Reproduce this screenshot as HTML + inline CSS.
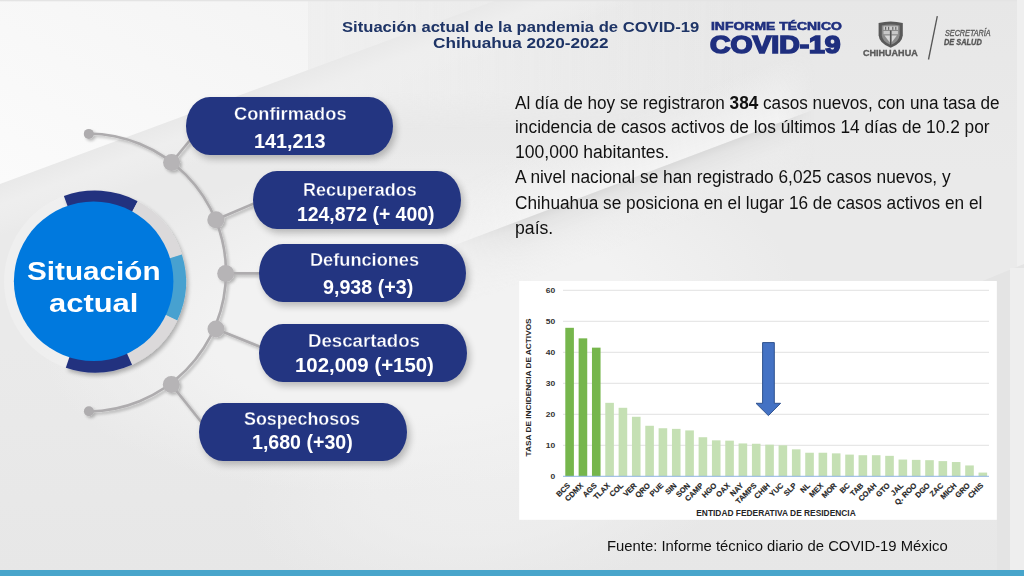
<!DOCTYPE html>
<html><head><meta charset="utf-8">
<style>
*{margin:0;padding:0;box-sizing:border-box}
html,body{width:1024px;height:576px;overflow:hidden}
body{position:relative;background:#ececec;font-family:"Liberation Sans",sans-serif}
.abs{position:absolute}
.t{position:absolute;white-space:nowrap;line-height:1;transform-origin:0 0}
.pill{position:absolute;background:#233581;border-radius:24px/29px;box-shadow:3px 4px 7px rgba(0,0,0,0.24)}
</style></head>
<body>

<svg class="abs" style="left:0;top:0" width="1024" height="576" viewBox="0 0 1024 576">
  <defs>
    <linearGradient id="bgBase" x1="0" y1="0" x2="0" y2="1">
      <stop offset="0" stop-color="#e7e7e7"/>
      <stop offset="0.3" stop-color="#eaeaea"/>
      <stop offset="0.6" stop-color="#eaeaea"/>
      <stop offset="1" stop-color="#e7e7e7"/>
    </linearGradient>
    <linearGradient id="hdr" gradientUnits="userSpaceOnUse" x1="308" y1="0" x2="760" y2="0">
      <stop offset="0" stop-color="#efefef" stop-opacity="1"/>
      <stop offset="1" stop-color="#efefef" stop-opacity="0"/>
    </linearGradient>
    <linearGradient id="tl" x1="0" y1="1" x2="1" y2="0">
      <stop offset="0" stop-color="#fbfbfb"/>
      <stop offset="1" stop-color="#f4f4f4"/>
    </linearGradient>
    <linearGradient id="sh1" gradientUnits="userSpaceOnUse" x1="100" y1="147" x2="117" y2="193">
      <stop offset="0" stop-color="#e9e9e9" stop-opacity="1"/>
      <stop offset="0.4" stop-color="#eeeeee" stop-opacity="1"/>
      <stop offset="1" stop-color="#f0f0f0" stop-opacity="0"/>
    </linearGradient>
    <linearGradient id="sh2" gradientUnits="userSpaceOnUse" x1="640" y1="175.3" x2="661.2" y2="231.5">
      <stop offset="0" stop-color="#dadada" stop-opacity="1"/>
      <stop offset="0.12" stop-color="#e3e3e3" stop-opacity="1"/>
      <stop offset="0.45" stop-color="#ebebeb" stop-opacity="0.8"/>
      <stop offset="1" stop-color="#f0f0f0" stop-opacity="0"/>
    </linearGradient>
    <radialGradient id="blob" gradientUnits="userSpaceOnUse" cx="0" cy="0" r="1" gradientTransform="translate(420,320) rotate(-5) scale(380,170)">
      <stop offset="0" stop-color="#f2f2f2" stop-opacity="1"/>
      <stop offset="0.55" stop-color="#f2f2f2" stop-opacity="1"/>
      <stop offset="1" stop-color="#f2f2f2" stop-opacity="0"/>
    </radialGradient>
    <linearGradient id="m2g" gradientUnits="userSpaceOnUse" x1="440" y1="0" x2="815" y2="0">
      <stop offset="0" stop-color="#fff" stop-opacity="0"/>
      <stop offset="0.22" stop-color="#fff" stop-opacity="1"/>
      <stop offset="0.9" stop-color="#fff" stop-opacity="1"/>
      <stop offset="1" stop-color="#fff" stop-opacity="0"/>
    </linearGradient>
    <linearGradient id="up2" gradientUnits="userSpaceOnUse" x1="640" y1="175.3" x2="618.8" y2="119.1">
      <stop offset="0" stop-color="#f3f3f3" stop-opacity="1"/>
      <stop offset="0.4" stop-color="#f1f1f1" stop-opacity="0.7"/>
      <stop offset="1" stop-color="#efefef" stop-opacity="0"/>
    </linearGradient>
    <radialGradient id="blob2" gradientUnits="userSpaceOnUse" cx="0" cy="0" r="1" gradientTransform="translate(500,470) rotate(-10) scale(260,130)">
      <stop offset="0" stop-color="#efefef" stop-opacity="0.9"/>
      <stop offset="0.5" stop-color="#efefef" stop-opacity="0.7"/>
      <stop offset="1" stop-color="#efefef" stop-opacity="0"/>
    </radialGradient>
    <mask id="m2"><rect x="0" y="0" width="1024" height="576" fill="url(#m2g)"/></mask>
    <linearGradient id="hdrv" x1="0" y1="0" x2="0" y2="1">
      <stop offset="0" stop-color="#fff" stop-opacity="1"/>
      <stop offset="0.7" stop-color="#fff" stop-opacity="1"/>
      <stop offset="1" stop-color="#fff" stop-opacity="0"/>
    </linearGradient>
    <mask id="mh"><rect x="308" y="0" width="716" height="130" fill="url(#hdrv)"/></mask>
  </defs>
  <rect x="0" y="0" width="1024" height="576" fill="url(#bgBase)"/>
  <rect x="308" y="0" width="716" height="130" fill="url(#hdr)" mask="url(#mh)"/>
  <polygon points="0,184 497,0 700,0 0,290" fill="url(#sh1)"/>
  <rect x="0" y="0" width="1024" height="576" fill="url(#blob2)"/>
  <rect x="0" y="0" width="1024" height="576" fill="url(#blob)"/>
  <polygon points="0,416.6 1024,30.5 1024,-40 0,340" fill="url(#up2)" mask="url(#m2)"/>
  <polygon points="0,416.6 1024,30.5 1024,600 0,600" fill="url(#sh2)" mask="url(#m2)"/>
  <polygon points="0,0 308,0 308,70 0,184" fill="url(#tl)"/>
  <rect x="0" y="0" width="1024" height="1.3" fill="#e4e4e4"/>
  <rect x="1017" y="0" width="7" height="570" fill="#efefef"/>
  <polygon points="980,282 1024,264 1024,570 997,570 997,282" fill="#e4e4e4"/>
  <rect x="1010" y="268" width="14" height="302" fill="#eeeeee"/>
  <rect x="0" y="570" width="1024" height="6" fill="#48a5cb"/>
</svg>

<svg class="abs" style="left:0;top:0" width="1024" height="576" viewBox="0 0 1024 576">
<defs><filter id="sh" x="-20%" y="-20%" width="140%" height="140%"><feGaussianBlur in="SourceAlpha" stdDeviation="1.5"/><feOffset dx="1.5" dy="2" result="o"/><feComponentTransfer><feFuncA type="linear" slope="0.25"/></feComponentTransfer><feMerge><feMergeNode/><feMergeNode in="SourceGraphic"/></feMerge></filter></defs>
<g filter="url(#sh)">
<path d="M88.9,133.5 A139,139 0 0 1 226,272.5 A139,139 0 0 1 88.9,411.5" fill="none" stroke="#aeacae" stroke-width="2.6"/>
<line x1="171.6" y1="162.5" x2="200" y2="128" stroke="#aeacae" stroke-width="2.6"/>
<line x1="215.8" y1="219.8" x2="262" y2="200" stroke="#aeacae" stroke-width="2.6"/>
<line x1="225.7" y1="273.4" x2="270" y2="273.4" stroke="#aeacae" stroke-width="2.6"/>
<line x1="216" y1="329" x2="268" y2="350" stroke="#aeacae" stroke-width="2.6"/>
<line x1="171.3" y1="384.4" x2="210" y2="433" stroke="#aeacae" stroke-width="2.6"/>
<circle cx="88.8" cy="133.9" r="5" fill="#aeacae"/>
<circle cx="88.9" cy="411.2" r="5" fill="#aeacae"/>
<circle cx="171.6" cy="162.5" r="8.5" fill="#b6b4b6"/>
<circle cx="215.8" cy="219.8" r="8.5" fill="#b6b4b6"/>
<circle cx="225.7" cy="273.4" r="8.5" fill="#b6b4b6"/>
<circle cx="216" cy="329" r="8.5" fill="#b6b4b6"/>
<circle cx="171.3" cy="384.4" r="8.5" fill="#b6b4b6"/>
</g>
</svg>
<svg class="abs" id="ring" style="left:0;top:0" width="1024" height="576" viewBox="0 0 1024 576">
<defs><filter id="rsh" x="-30%" y="-30%" width="160%" height="160%"><feGaussianBlur in="SourceAlpha" stdDeviation="2.2"/><feOffset dx="2" dy="2.5"/><feComponentTransfer><feFuncA type="linear" slope="0.28"/></feComponentTransfer><feMerge><feMergeNode/><feMergeNode in="SourceGraphic"/></feMerge></filter></defs>
<path d="M65.82,367.70 A91,91 0 0 1 63.88,195.99 L69.01,210.08 A76,76 0 0 0 70.63,353.49 Z" fill="#f3f3f3" opacity="0.55"/>
<g filter="url(#rsh)">
<path d="M63.88,195.99 A91,91 0 0 1 137.72,201.15 L130.68,214.40 A76,76 0 0 0 69.01,210.08 Z" fill="#23337f"/>
<path d="M137.72,201.15 A91,91 0 0 1 181.88,254.44 L167.56,258.90 A76,76 0 0 0 130.68,214.40 Z" fill="#dbd9da"/>
<path d="M181.88,254.44 A91,91 0 0 1 177.20,320.53 L163.65,314.10 A76,76 0 0 0 167.56,258.90 Z" fill="#46a1d0"/>
<path d="M177.20,320.53 A91,91 0 0 1 132.01,364.63 L125.91,350.93 A76,76 0 0 0 163.65,314.10 Z" fill="#dbd9da"/>
<path d="M132.01,364.63 A91,91 0 0 1 65.82,367.70 L70.63,353.49 A76,76 0 0 0 125.91,350.93 Z" fill="#23337f"/>
</g>
<circle id="bc" cx="93.65" cy="281.25" r="79.75" fill="#0079de"/>
</svg>
<div class="pill" id="pl1" style="left:185.9px;top:97.2px;width:207.6px;height:58px"></div>
<div class="pill" id="pl2" style="left:253.1px;top:171.3px;width:207.6px;height:58px"></div>
<div class="pill" id="pl3" style="left:258.9px;top:243.5px;width:207.6px;height:58px"></div>
<div class="pill" id="pl4" style="left:259px;top:323.5px;width:207.6px;height:58px"></div>
<div class="pill" id="pl5" style="left:199.1px;top:402.8px;width:207.6px;height:58px"></div>
<svg class="abs" style="left:0;top:0" width="1024" height="576" viewBox="0 0 1024 576">
<rect x="519.2" y="281" width="477.6" height="238.8" fill="#fff"/>
<line x1="563" y1="445.3" x2="989" y2="445.3" stroke="#e2e2e2" stroke-width="1"/>
<line x1="563" y1="414.3" x2="989" y2="414.3" stroke="#e2e2e2" stroke-width="1"/>
<line x1="563" y1="383.3" x2="989" y2="383.3" stroke="#e2e2e2" stroke-width="1"/>
<line x1="563" y1="352.3" x2="989" y2="352.3" stroke="#e2e2e2" stroke-width="1"/>
<line x1="563" y1="321.3" x2="989" y2="321.3" stroke="#e2e2e2" stroke-width="1"/>
<line x1="563" y1="290.3" x2="989" y2="290.3" stroke="#e2e2e2" stroke-width="1"/>
<rect x="565.30" y="327.81" width="8.6" height="148.49" fill="#76b64c"/>
<rect x="578.63" y="338.35" width="8.6" height="137.95" fill="#76b64c"/>
<rect x="591.96" y="347.65" width="8.6" height="128.65" fill="#76b64c"/>
<rect x="605.29" y="402.83" width="8.6" height="73.47" fill="#c5e0b4"/>
<rect x="618.62" y="407.79" width="8.6" height="68.51" fill="#c5e0b4"/>
<rect x="631.95" y="416.78" width="8.6" height="59.52" fill="#c5e0b4"/>
<rect x="645.28" y="425.77" width="8.6" height="50.53" fill="#c5e0b4"/>
<rect x="658.61" y="428.25" width="8.6" height="48.05" fill="#c5e0b4"/>
<rect x="671.94" y="428.87" width="8.6" height="47.43" fill="#c5e0b4"/>
<rect x="685.27" y="430.42" width="8.6" height="45.88" fill="#c5e0b4"/>
<rect x="698.60" y="437.24" width="8.6" height="39.06" fill="#c5e0b4"/>
<rect x="711.93" y="440.34" width="8.6" height="35.96" fill="#c5e0b4"/>
<rect x="725.26" y="440.65" width="8.6" height="35.65" fill="#c5e0b4"/>
<rect x="738.59" y="443.44" width="8.6" height="32.86" fill="#c5e0b4"/>
<rect x="751.92" y="443.75" width="8.6" height="32.55" fill="#c5e0b4"/>
<rect x="765.25" y="444.68" width="8.6" height="31.62" fill="#c5e0b4"/>
<rect x="778.58" y="445.30" width="8.6" height="31.00" fill="#c5e0b4"/>
<rect x="791.91" y="449.33" width="8.6" height="26.97" fill="#c5e0b4"/>
<rect x="805.24" y="452.74" width="8.6" height="23.56" fill="#c5e0b4"/>
<rect x="818.57" y="452.74" width="8.6" height="23.56" fill="#c5e0b4"/>
<rect x="831.90" y="453.36" width="8.6" height="22.94" fill="#c5e0b4"/>
<rect x="845.23" y="454.60" width="8.6" height="21.70" fill="#c5e0b4"/>
<rect x="858.56" y="455.22" width="8.6" height="21.08" fill="#c5e0b4"/>
<rect x="871.89" y="455.22" width="8.6" height="21.08" fill="#c5e0b4"/>
<rect x="885.22" y="455.84" width="8.6" height="20.46" fill="#c5e0b4"/>
<rect x="898.55" y="459.56" width="8.6" height="16.74" fill="#c5e0b4"/>
<rect x="911.88" y="459.87" width="8.6" height="16.43" fill="#c5e0b4"/>
<rect x="925.21" y="460.18" width="8.6" height="16.12" fill="#c5e0b4"/>
<rect x="938.54" y="461.11" width="8.6" height="15.19" fill="#c5e0b4"/>
<rect x="951.87" y="462.04" width="8.6" height="14.26" fill="#c5e0b4"/>
<rect x="965.20" y="465.45" width="8.6" height="10.85" fill="#c5e0b4"/>
<rect x="978.53" y="472.58" width="8.6" height="3.72" fill="#c5e0b4"/>
<line x1="563" y1="476.3" x2="989" y2="476.3" stroke="#8fb4e3" stroke-width="1"/>
<g font-family="Liberation Sans" font-weight="bold" font-size="7.2" fill="#333" text-anchor="end">
<text transform="translate(555.3,478.9) scale(1.18,1)">0</text>
<text transform="translate(555.3,447.9) scale(1.18,1)">10</text>
<text transform="translate(555.3,416.9) scale(1.18,1)">20</text>
<text transform="translate(555.3,385.9) scale(1.18,1)">30</text>
<text transform="translate(555.3,354.9) scale(1.18,1)">40</text>
<text transform="translate(555.3,323.9) scale(1.18,1)">50</text>
<text transform="translate(555.3,292.9) scale(1.18,1)">60</text>
</g>
<text transform="translate(530.6,387.4) rotate(-90)" text-anchor="middle" font-family="Liberation Sans" font-weight="bold" font-size="7.8" fill="#262626" textLength="138" lengthAdjust="spacingAndGlyphs">TASA DE INCIDENCIA DE ACTIVOS</text>
<g font-family="Liberation Sans" font-weight="bold" font-size="7.6" fill="#262626" text-anchor="end" stroke="#262626" stroke-width="0.15">
<text transform="translate(570.6,486) rotate(-45)">BCS</text>
<text transform="translate(583.9,486) rotate(-45)">CDMX</text>
<text transform="translate(597.3,486) rotate(-45)">AGS</text>
<text transform="translate(610.6,486) rotate(-45)">TLAX</text>
<text transform="translate(623.9,486) rotate(-45)">COL</text>
<text transform="translate(637.2,486) rotate(-45)">VER</text>
<text transform="translate(650.6,486) rotate(-45)">QRO</text>
<text transform="translate(663.9,486) rotate(-45)">PUE</text>
<text transform="translate(677.2,486) rotate(-45)">SIN</text>
<text transform="translate(690.6,486) rotate(-45)">SON</text>
<text transform="translate(703.9,486) rotate(-45)">CAMP</text>
<text transform="translate(717.2,486) rotate(-45)">HGO</text>
<text transform="translate(730.6,486) rotate(-45)">OAX</text>
<text transform="translate(743.9,486) rotate(-45)">NAY</text>
<text transform="translate(757.2,486) rotate(-45)">TAMPS</text>
<text transform="translate(770.5,486) rotate(-45)">CHIH</text>
<text transform="translate(783.9,486) rotate(-45)">YUC</text>
<text transform="translate(797.2,486) rotate(-45)">SLP</text>
<text transform="translate(810.5,486) rotate(-45)">NL</text>
<text transform="translate(823.9,486) rotate(-45)">MEX</text>
<text transform="translate(837.2,486) rotate(-45)">MOR</text>
<text transform="translate(850.5,486) rotate(-45)">BC</text>
<text transform="translate(863.9,486) rotate(-45)">TAB</text>
<text transform="translate(877.2,486) rotate(-45)">COAH</text>
<text transform="translate(890.5,486) rotate(-45)">GTO</text>
<text transform="translate(903.8,486) rotate(-45)">JAL</text>
<text transform="translate(917.2,486) rotate(-45)">Q. ROO</text>
<text transform="translate(930.5,486) rotate(-45)">DGO</text>
<text transform="translate(943.8,486) rotate(-45)">ZAC</text>
<text transform="translate(957.2,486) rotate(-45)">MICH</text>
<text transform="translate(970.5,486) rotate(-45)">GRO</text>
<text transform="translate(983.8,486) rotate(-45)">CHIS</text>
</g>
<text x="776" y="516.2" text-anchor="middle" font-family="Liberation Sans" font-weight="bold" font-size="8.4" fill="#262626">ENTIDAD FEDERATIVA DE RESIDENCIA</text>
<polygon points="762.6,342.6 774.3,342.6 774.3,403.3 780.6,403.3 768.4,415.6 756,403.3 762.6,403.3" fill="#4472c4" stroke="#2f528f" stroke-width="1"/>
</svg>
<svg class="abs" style="left:0;top:0" width="1024" height="576" viewBox="0 0 1024 576">
<path d="M878.6,23 Q890.7,19.8 902.8,23 L902.8,35.3 Q902.2,43.5 890.7,47.8 Q879.2,43.5 878.6,35.3 Z" fill="#595959"/>
<path d="M881.8,25.6 Q890.7,23.4 899.6,25.6 L899.6,35.2 Q899,41.6 890.7,44.9 Q882.4,41.6 881.8,35.2 Z" fill="#8c8c8c"/>
<rect x="883.5" y="26.3" width="14.4" height="3.6" fill="#cfcfcf"/>
<rect x="885" y="26.8" width="1.2" height="3" fill="#666"/>
<rect x="888" y="26.8" width="1.2" height="3" fill="#666"/>
<rect x="892.2" y="26.8" width="1.2" height="3" fill="#666"/>
<rect x="895.2" y="26.8" width="1.2" height="3" fill="#666"/>
<rect x="883.5" y="31" width="6.3" height="3.2" fill="#c8c8c8"/>
<rect x="891.6" y="31" width="6.3" height="3.2" fill="#c8c8c8"/>
<path d="M884.5,35.6 L889.8,35.6 L889.8,42.5 Z" fill="#d6d6d6"/>
<path d="M896.9,35.6 L891.6,35.6 L891.6,42.5 Z" fill="#d6d6d6"/>
<line x1="890.7" y1="30.5" x2="890.7" y2="45" stroke="#4d4d4d" stroke-width="1.3"/>
<line x1="937.3" y1="16.2" x2="928.5" y2="59.5" stroke="#555" stroke-width="1.3"/>
</svg>

<div class="t" id="h1" style="left:341.69px;top:20.05px;font-size:14px;font-weight:bold;color:#1e3466;transform:scaleX(1.1867);">Situación actual de la pandemia de COVID-19</div>
<div class="t" id="h2" style="left:433.11px;top:36.25px;font-size:14px;font-weight:bold;color:#1e3466;transform:scaleX(1.2268);">Chihuahua 2020-2022</div>
<div class="t" id="inf" style="left:711.00px;top:21.28px;font-size:10.6px;font-weight:bold;color:#1f2f7f;transform:scaleX(1.3162);-webkit-text-stroke:0.55px #1f2f7f;">INFORME TÉCNICO</div>
<div class="t" id="cov" style="left:709.88px;top:33.78px;font-size:23px;font-weight:bold;color:#1f2f7f;transform:scaleX(1.2311);-webkit-text-stroke:1.6px #1f2f7f;">COVID-19</div>
<div class="t" id="p1" style="left:515.00px;top:93.76px;font-size:18px;font-weight:normal;color:#111;transform:scaleX(0.9533);">Al día de hoy se registraron <b>384</b> casos nuevos, con una tasa de</div>
<div class="t" id="p2" style="left:515.04px;top:118.16px;font-size:18px;font-weight:normal;color:#111;transform:scaleX(0.9622);">incidencia de casos activos de los últimos 14 días de 10.2 por</div>
<div class="t" id="p3" style="left:515.02px;top:142.76px;font-size:18px;font-weight:normal;color:#111;transform:scaleX(0.9750);">100,000 habitantes.</div>
<div class="t" id="p4" style="left:515.00px;top:167.66px;font-size:18px;font-weight:normal;color:#111;transform:scaleX(0.9609);">A nivel nacional se han registrado 6,025 casos nuevos, y</div>
<div class="t" id="p5" style="left:515.04px;top:193.66px;font-size:18px;font-weight:normal;color:#111;transform:scaleX(0.9570);">Chihuahua se posiciona en el lugar 16 de casos activos en el</div>
<div class="t" id="p6" style="left:515.02px;top:218.56px;font-size:18px;font-weight:normal;color:#111;transform:scaleX(0.9806);">país.</div>
<div class="t" id="fu" style="left:606.59px;top:538.68px;font-size:14.67px;font-weight:normal;color:#111;transform:scaleX(1.0128);">Fuente: Informe técnico diario de COVID-19 México</div>
<div class="t" id="s1" style="left:26.86px;top:258.09px;font-size:26px;font-weight:bold;color:#fff;transform:scaleX(1.1409);">Situación</div>
<div class="t" id="s2" style="left:49.37px;top:289.99px;font-size:26px;font-weight:bold;color:#fff;transform:scaleX(1.1889);">actual</div>
<div class="t" id="c1a" style="left:234.19px;top:105.06px;font-size:18px;font-weight:bold;color:#fff;transform:scaleX(1.0138);--thin:1;-webkit-text-stroke:0.3px #233581;">Confirmados</div>
<div class="t" id="c1b" style="left:253.78px;top:132.49px;font-size:19.5px;font-weight:bold;color:#fff;transform:scaleX(1.0159);">141,213</div>
<div class="t" id="c2a" style="left:303.40px;top:180.76px;font-size:18px;font-weight:bold;color:#fff;transform:scaleX(0.9964);--thin:1;-webkit-text-stroke:0.3px #233581;">Recuperados</div>
<div class="t" id="c2b" style="left:297.01px;top:205.19px;font-size:19.5px;font-weight:bold;color:#fff;transform:scaleX(0.9941);">124,872 (+ 400)</div>
<div class="t" id="c3a" style="left:309.99px;top:250.76px;font-size:18px;font-weight:bold;color:#fff;transform:scaleX(1.0094);--thin:1;-webkit-text-stroke:0.3px #233581;">Defunciones</div>
<div class="t" id="c3b" style="left:322.99px;top:277.89px;font-size:19.5px;font-weight:bold;color:#fff;transform:scaleX(1.0091);">9,938 (+3)</div>
<div class="t" id="c4a" style="left:308.33px;top:331.86px;font-size:18px;font-weight:bold;color:#fff;transform:scaleX(1.0362);--thin:1;-webkit-text-stroke:0.3px #233581;">Descartados</div>
<div class="t" id="c4b" style="left:294.95px;top:356.09px;font-size:19.5px;font-weight:bold;color:#fff;transform:scaleX(1.0458);">102,009 (+150)</div>
<div class="t" id="c5a" style="left:244.01px;top:409.66px;font-size:18px;font-weight:bold;color:#fff;transform:scaleX(0.9913);--thin:1;-webkit-text-stroke:0.3px #233581;">Sospechosos</div>
<div class="t" id="c5b" style="left:251.80px;top:433.39px;font-size:19.5px;font-weight:bold;color:#fff;transform:scaleX(1.0041);">1,680 (+30)</div>
<div class="t" id="chi" style="left:863.00px;top:48.59px;font-size:8.4px;font-weight:bold;color:#5a5a5a;transform:scaleX(1.0784);-webkit-text-stroke:0.35px #5a5a5a;">CHIHUAHUA</div>
<div class="t" id="sec" style="left:945.00px;top:29.29px;font-size:8.4px;font-weight:normal;color:#5e5e5e;transform:scaleX(0.8623);font-style:italic;-webkit-text-stroke:0.35px #5e5e5e;">SECRETARÍA</div>
<div class="t" id="sal" style="left:944.00px;top:38.96px;font-size:8.2px;font-weight:bold;color:#555;transform:scaleX(0.9024);font-style:italic;-webkit-text-stroke:0.35px #555;">DE SALUD</div>
</body></html>
